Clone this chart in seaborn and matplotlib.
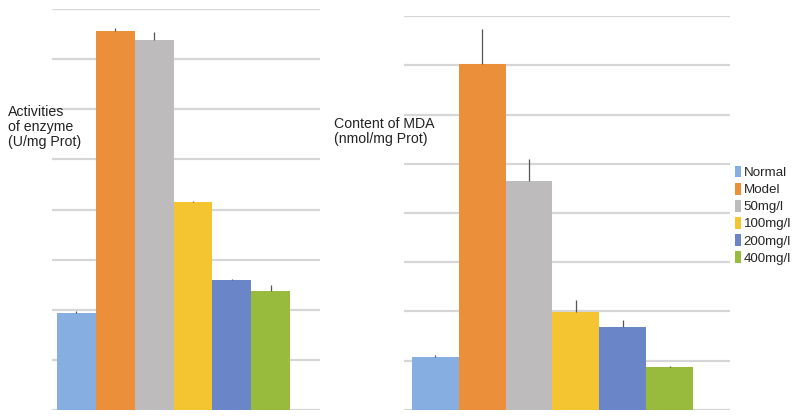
import matplotlib
matplotlib.use("Agg")
import matplotlib.pyplot as plt
import seaborn as sns
import numpy as np
import pandas as pd
from matplotlib.patches import Patch

groups = ["Normal", "Model", "50mg/l", "100mg/l", "200mg/l", "400mg/l"]
colors = ["#86AEE1", "#EB8F3A", "#BDBBBC", "#F4C531", "#6A86C8", "#98BB3E"]

# left panel: enzyme activity (grid units)
enzyme_mean = [1.94, 7.56, 7.38, 4.14, 2.60, 2.38]
enzyme_err = [0.03, 0.06, 0.16, 0.02, 0.02, 0.12]

# right panel: MDA content (grid units)
mda_mean = [1.08, 7.03, 4.65, 1.99, 1.68, 0.87]
mda_err = [0.03, 0.71, 0.45, 0.24, 0.14, 0.02]

sns.set_theme(style="white")
plt.rcParams['font.family'] = ['Liberation Sans', 'DejaVu Sans']

fig = plt.figure(figsize=(8, 4.17), dpi=100)
ax1 = fig.add_axes([0.065, 0.0168, 0.335, 0.9616])
ax2 = fig.add_axes([0.505, 0.0168, 0.4075, 0.9448])


def draw_panel(ax, means, errs, xlim):
    df = pd.DataFrame({"group": groups, "value": means})
    sns.barplot(data=df, x="group", y="value", hue="group", palette=colors,
                saturation=1, width=1.0, linewidth=0, legend=False, ax=ax,
                zorder=2)
    x = np.arange(len(groups))
    ax.errorbar(x, means, yerr=[np.zeros(len(errs)), errs], fmt="none",
                ecolor="#555555", elinewidth=0.9, capsize=0, zorder=3)
    ax.set_ylim(0, 8)
    ax.set_xlim(*xlim)
    ax.set_yticks(range(0, 9))
    ax.yaxis.grid(True, color="#D6D6D6", linewidth=1.6)
    ax.set_axisbelow(True)
    ax.tick_params(left=False, bottom=False, labelleft=False, labelbottom=False)
    for s in ax.spines.values():
        s.set_visible(False)
    ax.set_xlabel("")
    ax.set_ylabel("")


draw_panel(ax1, enzyme_mean, enzyme_err, (-0.63, 6.27))
draw_panel(ax2, mda_mean, mda_err, (-0.67, 6.29))

fig.text(0.01, 0.748, "Activities\nof enzyme\n(U/mg Prot)", fontsize=10.2,
         color="#222222", va="top", ha="left", linespacing=1.08)
fig.text(0.418, 0.720, "Content of MDA\n(nmol/mg Prot)", fontsize=10.2,
         color="#222222", va="top", ha="left", linespacing=1.08)

handles = [Patch(facecolor=c, edgecolor="none") for c in colors]
fig.legend(handles, groups, loc="upper left", bbox_to_anchor=(0.919, 0.603),
           frameon=False, fontsize=9.6, handlelength=0.4, handleheight=1.0,
           handletextpad=0.25, labelspacing=0.27, borderaxespad=0,
           borderpad=0)

fig.savefig("out.png", dpi=100)
